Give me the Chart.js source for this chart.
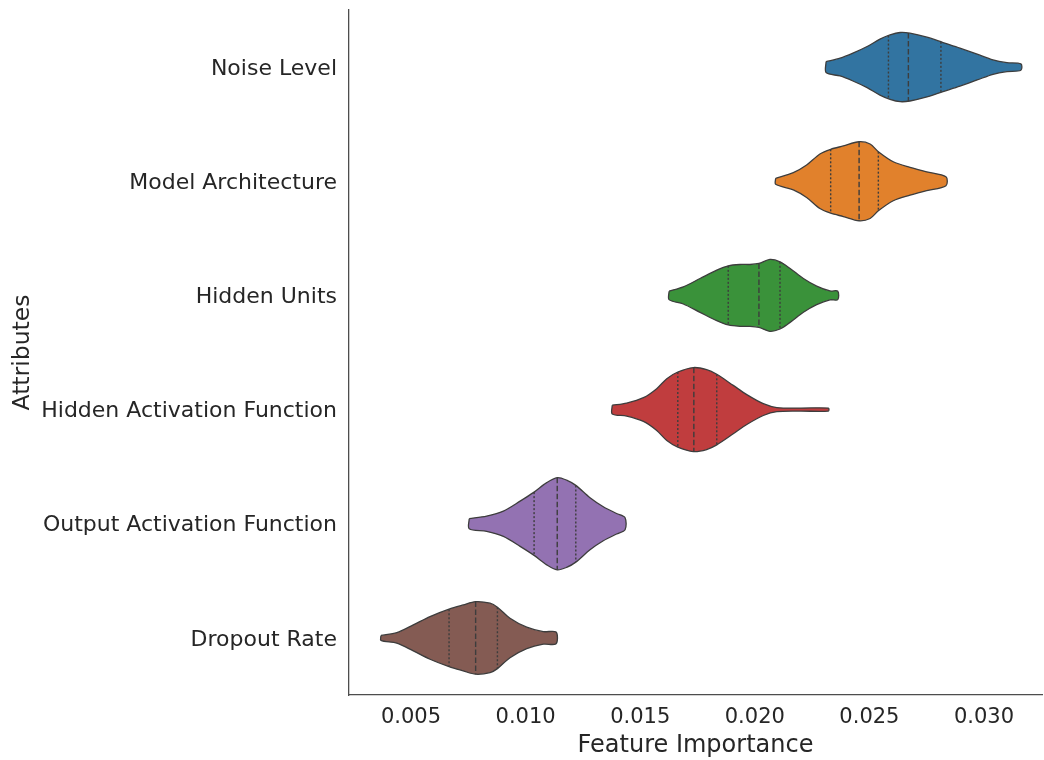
<!DOCTYPE html>
<html>
<head>
<meta charset="utf-8">
<script src="https://cdn.jsdelivr.net/npm/chart.js@4.4.1/dist/chart.umd.min.js"></script>
<style>
  html, body { margin: 0; padding: 0; background: #ffffff; }
  #wrap { width: 1044px; height: 760px; }
</style>
</head>
<body>
<div id="wrap"><canvas id="c" width="1044" height="760"></canvas></div>
<script>
// Attributes, top to bottom
const categories = [
  'Noise Level',
  'Model Architecture',
  'Hidden Units',
  'Hidden Activation Function',
  'Output Activation Function',
  'Dropout Rate'
];

// Density outline of each violin: positions along the importance axis
// and the half-width of the violin there (in category units)
const noiseX = [0.02311, 0.02372, 0.02428, 0.02490, 0.02546, 0.02590, 0.02634, 0.02677, 0.02751, 0.02821, 0.02895, 0.02970, 0.03039, 0.03100, 0.03161];
const noiseW = [0.048, 0.078, 0.122, 0.180, 0.245, 0.282, 0.303, 0.297, 0.262, 0.215, 0.166, 0.113, 0.063, 0.039, 0.028];

const archX = [0.02091, 0.02168, 0.02226, 0.02284, 0.02331, 0.02386, 0.02455, 0.02503, 0.02539, 0.02604, 0.02677, 0.02750, 0.02834];
const archW = [0.026, 0.075, 0.142, 0.239, 0.280, 0.309, 0.346, 0.326, 0.259, 0.171, 0.122, 0.083, 0.039];

const unitsX = [0.01626, 0.01688, 0.01761, 0.01834, 0.01884, 0.01935, 0.01979, 0.02018, 0.02066, 0.02110, 0.02154, 0.02212, 0.02270, 0.02328, 0.02362];
const unitsW = [0.037, 0.075, 0.148, 0.221, 0.259, 0.271, 0.271, 0.280, 0.315, 0.294, 0.236, 0.148, 0.081, 0.039, 0.037];

const hiddenActX = [0.01378, 0.01441, 0.01514, 0.01572, 0.01616, 0.01664, 0.01732, 0.01790, 0.01834, 0.01906, 0.01965, 0.02037, 0.02096, 0.02197, 0.02321];
const hiddenActW = [0.038, 0.057, 0.104, 0.183, 0.271, 0.329, 0.368, 0.350, 0.309, 0.212, 0.131, 0.052, 0.018, 0.013, 0.013];

const outputActX = [0.00754, 0.00830, 0.00903, 0.00976, 0.01037, 0.01092, 0.01138, 0.01179, 0.01219, 0.01281, 0.01339, 0.01397, 0.01434];
const outputActW = [0.044, 0.067, 0.111, 0.198, 0.277, 0.360, 0.404, 0.382, 0.336, 0.228, 0.149, 0.090, 0.053];

const dropoutX = [0.00369, 0.00438, 0.00510, 0.00583, 0.00666, 0.00728, 0.00782, 0.00845, 0.00877, 0.00932, 0.01005, 0.01077, 0.01133];
const dropoutW = [0.022, 0.046, 0.114, 0.187, 0.252, 0.289, 0.318, 0.304, 0.269, 0.173, 0.094, 0.055, 0.051];

// Quartiles per attribute
const q1 = [0.02583, 0.02331, 0.01884, 0.01664, 0.01037, 0.00666];
const median = [0.02670, 0.02455, 0.02018, 0.01734, 0.01138, 0.00782];
const q3 = [0.02812, 0.02539, 0.02110, 0.01834, 0.01219, 0.00877];

// Axis ticks
const xTicks = [0.005, 0.010, 0.015, 0.020, 0.025, 0.030];

const profiles = [
  [noiseX, noiseW],
  [archX, archW],
  [unitsX, unitsW],
  [hiddenActX, hiddenActW],
  [outputActX, outputActW],
  [dropoutX, dropoutW]
];

const fills = ['#3274a1', '#e1812c', '#3a923a', '#c03d3e', '#9372b2', '#845b53'];
const edge = '#3d3d3d';
const textColor = '#262626';
const font = 'DejaVu Sans, Verdana, sans-serif';

// Closed outline: upper edge left→right, lower edge right→left
function outline(i, xs, ws) {
  const pts = [];
  for (let k = 0; k < xs.length; k++) pts.push({ x: xs[k], y: i - ws[k] });
  for (let k = xs.length - 1; k >= 0; k--) pts.push({ x: xs[k], y: i + ws[k] });
  pts.push({ x: xs[0], y: i - ws[0] });
  return pts;
}

// Half-width of the outline at position v (segment lookup on the outline)
function halfWidthAt(xs, ws, v) {
  for (let k = 0; k < xs.length - 1; k++) {
    if (v >= xs[k] && v <= xs[k + 1]) {
      const t = (v - xs[k]) / (xs[k + 1] - xs[k]);
      return ws[k] + t * (ws[k + 1] - ws[k]);
    }
  }
  return 0;
}

const datasets = [];
profiles.forEach(([xs, ws], i) => {
  datasets.push({
    data: outline(i, xs, ws),
    backgroundColor: fills[i],
    borderColor: edge,
    borderWidth: 1.3,
    fill: 'shape',
    tension: 0.3,
    pointRadius: 0,
    order: 2
  });
  const marks = [
    [q1[i], [2, 2]],
    [median[i], [5.5, 2.5]],
    [q3[i], [2, 2]]
  ];
  marks.forEach(([v, dash]) => {
    const h = halfWidthAt(xs, ws, v);
    datasets.push({
      data: [{ x: v, y: i - h }, { x: v, y: i + h }],
      borderColor: edge,
      borderWidth: 1.4,
      borderDash: dash,
      fill: false,
      pointRadius: 0,
      order: 1
    });
  });
});

new Chart(document.getElementById('c'), {
  type: 'line',
  data: { datasets },
  options: {
    responsive: false,
    devicePixelRatio: 1,
    animation: false,
    layout: { padding: { top: 10, right: 2, left: 0, bottom: 0 } },
    plugins: {
      legend: { display: false },
      tooltip: { enabled: false }
    },
    scales: {
      x: {
        type: 'linear',
        min: 0.002295,
        max: 0.03253,
        afterFit: (s) => { s.height = 65; s.paddingLeft = 0; s.paddingRight = 0; },
        afterBuildTicks: (s) => { s.ticks = xTicks.map(v => ({ value: v })); },
        grid: { display: false, drawTicks: false },
        border: { display: true, color: '#4d4d4d', width: 1.3 },
        ticks: {
          padding: 10,
          color: textColor,
          font: { family: font, size: 21 },
          callback: (v) => Number(v).toFixed(3)
        },
        title: {
          display: true,
          text: 'Feature Importance',
          color: textColor,
          font: { family: font, size: 24 },
          padding: { top: 0, bottom: 0 }
        }
      },
      y: {
        type: 'linear',
        reverse: true,
        min: -0.5,
        max: 5.5,
        afterFit: (s) => { s.width = 349; s.paddingTop = 0; s.paddingBottom = 0; },
        afterBuildTicks: (s) => { s.ticks = categories.map((_, i) => ({ value: i })); },
        grid: { display: false, drawTicks: false },
        border: { display: true, color: '#4d4d4d', width: 1.3 },
        ticks: {
          padding: 12,
          labelOffset: 2,
          color: textColor,
          font: { family: font, size: 22 },
          callback: (v) => categories[v]
        },
        title: {
          display: true,
          text: 'Attributes',
          color: textColor,
          font: { family: font, size: 23.5 },
          padding: { top: 9, bottom: 0 }
        }
      }
    }
  }
});
</script>
</body>
</html>
